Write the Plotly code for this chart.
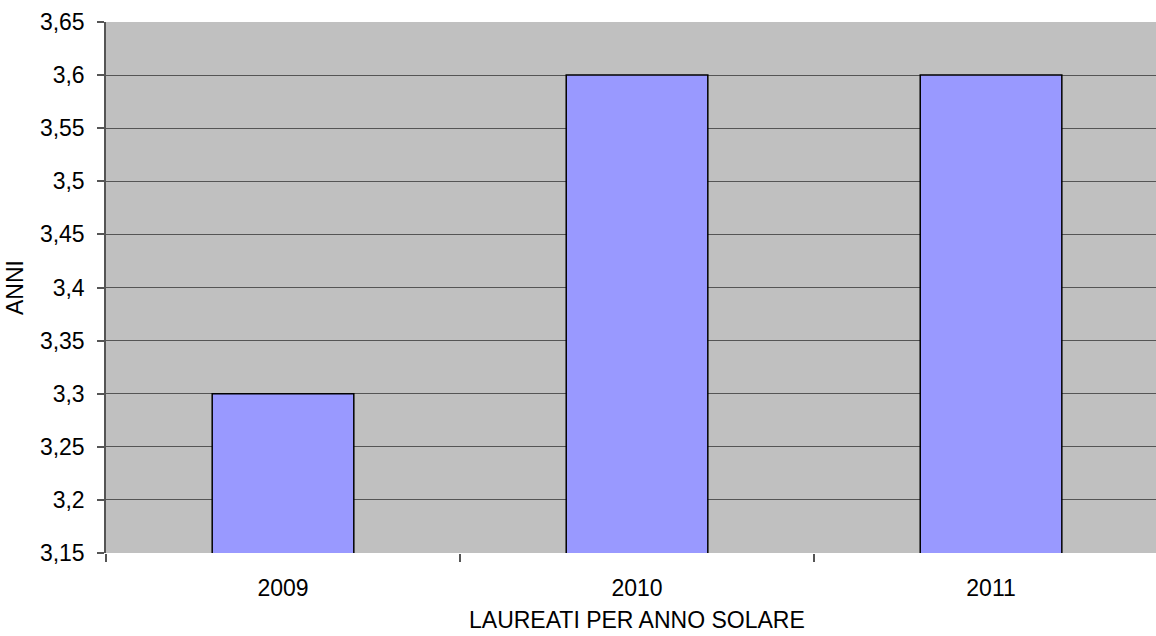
import plotly.graph_objects as go

categories = ["2009", "2010", "2011"]
values = [3.3, 3.6, 3.6]
y_tickvals = [3.15, 3.2, 3.25, 3.3, 3.35, 3.4, 3.45, 3.5, 3.55, 3.6, 3.65]
y_ticktext = ["3,15", "3,2", "3,25", "3,3", "3,35", "3,4", "3,45", "3,5", "3,55", "3,6", "3,65"]
x_title = "LAUREATI PER ANNO SOLARE"
y_title = "ANNI"

fig = go.Figure()
fig.add_trace(go.Bar(
    x=categories, y=values,
    marker=dict(color="#9999FF", line=dict(color="#000000", width=1.5)),
    width=0.4,
    hoverinfo="skip",
))

font_family = "Liberation Sans, Arial, sans-serif"
fs = 23
fig.update_layout(
    width=1156, height=636,
    autosize=False,
    margin=dict(l=106, r=0, t=22, b=83),
    paper_bgcolor="white",
    plot_bgcolor="#C0C0C0",
    showlegend=False,
    font=dict(family=font_family, size=fs, color="black"),
    xaxis=dict(
        type="category",
        range=[-0.5, 2.466],
        tickson="boundaries",
        ticks="outside", ticklen=8, tickcolor="#555555", tickwidth=1.5,
        ticklabelstandoff=19,
        showgrid=False, showline=False, zeroline=False,
        tickfont=dict(size=fs),
    ),
    yaxis=dict(
        range=[3.15, 3.65],
        tickvals=y_tickvals, ticktext=y_ticktext,
        ticks="outside", ticklen=7, tickcolor="#555555", tickwidth=1.5,
        ticklabelstandoff=8,
        showgrid=True, gridcolor="#555555", gridwidth=1.3,
        showline=True, linecolor="#555555", linewidth=1.5,
        zeroline=False,
        title=dict(text=y_title, standoff=10, font=dict(size=fs)),
        tickfont=dict(size=fs),
    ),
    annotations=[dict(
        text=x_title, xref="x", yref="paper", x=1, y=-0.126,
        xanchor="center", yanchor="middle", showarrow=False,
        font=dict(size=fs, family=font_family, color="black"),
    )],
)

fig.write_html(
    "out.html",
    config={"responsive": False, "displayModeBar": False},
    post_script="document.body.style.margin='0';document.body.style.overflow='hidden';",
)
